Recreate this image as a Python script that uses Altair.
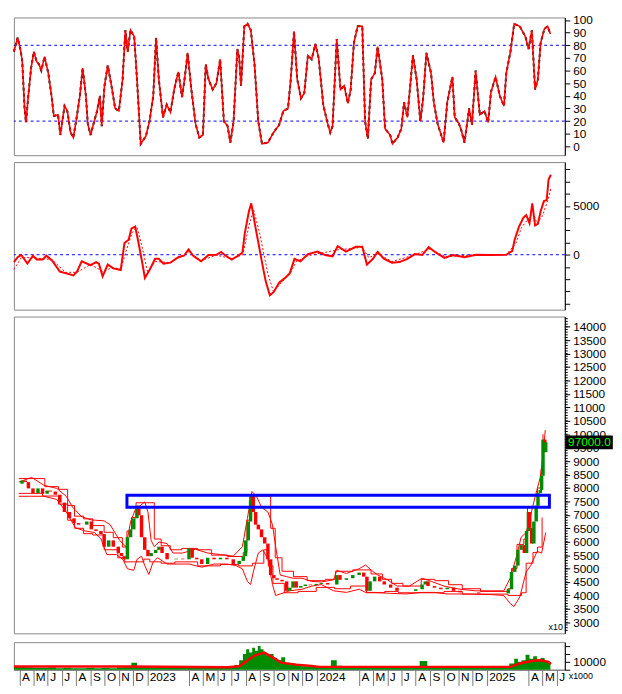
import altair as alt
import pandas as pd

BASE = pd.Timestamp("2022-04-01")

# ---------------- data (day offsets from 2022-04-01) -------------
stoch_days = [-12,-4,3,6,11,14,19,25,31,37,42,47,54,62,69,74,83,88,97,103,110,116,124,130,136,143,147,153,161,167,173,177,183,190,198,206,214,222,228,233,239,247,253,261,272,280,288,294,300,309,317,325,333,342,350,356,362,370,379,387,395,401,407,416,424,432,440,448,454,461,469,473,477,484,491,498,506,514,522,535,547,559,568,578,584,591,598,606,613,621,629,637,644,654,662,669,674,683,691,699,707,713,720,728,738,744,750,757,765,771,781,787,798,803,814,822,828,835,847,855,863,869,876,886,892,900,913,921,932,937,946,951,958,968,974,982,991,1001,1009,1015,1025,1034,1043,1048,1057,1065,1077,1089,1096,1103,1110,1116,1122,1130,1137,1143]
stoch_vals = [75,86,75,67,30,19,40,62,75,67,65,60,71,58,40,24,25,9,32,28,11,7,25,40,62,40,18,9,20,28,40,16,48,64,48,30,28,53,92,75,92,87,53,2,8,20,40,86,53,23,33,27,45,59,39,55,74,45,18,7,9,65,53,45,50,69,20,16,3,20,77,70,48,95,97,92,65,20,2,3,11,17,28,30,53,91,53,38,42,72,69,81,70,33,20,11,16,85,45,48,34,45,82,95,95,20,6,53,58,79,53,14,9,2,7,14,35,23,72,53,20,38,74,58,35,18,3,35,55,23,18,13,3,30,17,60,25,28,19,43,55,40,32,58,75,97,95,87,77,92,45,53,82,93,95,89]

macd_days = [-12,-4,4,17,29,37,50,58,70,87,99,116,124,134,153,165,171,179,190,202,218,226,235,241,249,255,264,270,280,292,300,310,325,342,354,364,374,391,407,424,434,444,457,473,480,485,494,499,508,522,530,539,547,559,572,582,592,605,621,642,658,674,685,703,724,738,748,761,771,785,802,818,835,851,867,881,896,915,933,958,983,1015,1048,1061,1066,1075,1085,1091,1098,1104,1110,1116,1122,1129,1135,1139,1144]
macd_vals = [-750,-260,-30,-910,-100,-490,-490,-100,-585,-1720,-1885,-2110,-1720,-680,-1070,-750,-910,-2210,-1010,-1400,-1560,1200,1530,2665,2890,1530,-750,-2370,-1560,-420,-420,-910,-810,-260,-100,550,-100,-680,-30,0,290,-100,-490,-30,230,2180,4450,5265,2830,-750,-2700,-4160,-3835,-2860,-2370,-1885,-420,-680,65,325,-30,-160,880,325,810,810,-1010,-420,290,-420,-810,-750,-420,65,-30,780,230,-325,-30,-260,0,-30,0,390,1530,2830,3800,4060,3220,5265,2990,3150,4450,5490,5590,7700,8190]

sig_days = [-12,4,29,70,99,124,153,179,202,218,231,243,253,264,276,292,325,364,391,424,457,481,494,504,518,535,547,563,582,596,621,685,738,752,771,802,851,884,917,983,1048,1069,1081,1094,1106,1114,1126,1139,1144]
sig_vals = [-1500,-300,-300,-500,-1800,-1800,-1000,-1700,-1300,-1500,600,2300,2800,800,-1800,-700,-800,300,-600,-50,-400,0,3000,4600,2000,-2000,-3800,-2900,-2000,-700,-100,500,750,-300,100,-700,0,600,-200,0,0,1200,2800,3600,4300,3200,4000,5800,6800]

price_days = [-12,-5,2,9,19,30,40,50,57,68,78,88,99,109,119,130,137,147,157,168,175,185,195,206,213,219,226,233,240,247,251,257,264,271,278,288,295,302,313,323,333,347,361,368,378,389,402,416,430,444,458,471,480,485,491,496,499,502,507,513,520,527,534,540,547,554,565,575,582,589,596,606,616,627,640,651,665,678,685,692,706,720,734,744,751,758,768,779,789,803,817,830,844,858,872,879,885,899,913,927,941,955,968,982,996,1010,1024,1037,1051,1061,1068,1075,1082,1089,1096,1101,1105,1108,1112,1117,1122,1126,1131,1134,1137,1141,1143]
price_close = [8160,8277,8219,7984,7808,7984,7785,7902,7867,7750,7456,7104,6870,6694,6635,6635,6752,6459,6400,6283,5814,6049,5814,5579,5462,5345,6166,6459,6870,7339,6987,6166,5697,5462,5579,5697,5814,5579,5345,5345,5369,5345,5755,5404,5345,5169,5404,5345,5404,5345,5169,5286,5462,6049,6752,7515,7691,7104,6635,6459,6166,5931,5345,4758,4641,4582,4524,4172,4289,4524,4289,4348,4406,4383,4430,4465,4406,4406,4758,4582,4641,4758,4852,4700,4172,4524,4700,4524,4406,4289,4172,4172,4172,4231,4406,4524,4348,4289,4231,4289,4172,4113,4113,4113,4078,4078,4078,4078,4078,4231,4875,5110,5697,5873,5579,6400,7104,6518,5931,6752,7339,7808,7925,8453,9802,9333,9700]

bbu_days = [-12,16,43,71,92,106,126,147,175,188,209,223,233,244,254,264,271,278,285,295,313,326,347,375,402,430,458,478,489,499,509,520,534,544,551,561,575,589,609,630,651,678,685,706,734,748,761,775,796,817,844,872,892,920,955,989,1024,1051,1065,1079,1089,1100,1110,1120,1131,1137,1142]
bbu_vals = [8219,8394,8101,7984,7691,7280,6928,6811,6776,6635,6049,5814,6752,7222,7339,7480,7104,6049,5814,5990,5931,5579,5579,5720,5579,5521,5462,5814,6870,7867,7691,7280,7104,6635,5814,4758,4699,4641,4641,4524,4500,4582,4934,4817,4993,5134,4934,4758,4582,4348,4348,4641,4524,4348,4231,4172,4172,4172,4641,5462,6166,6342,6987,7691,8394,9216,10154]

bbl_days = [-12,16,43,71,92,112,133,154,168,181,202,216,226,240,247,257,264,273,282,292,313,333,361,389,416,444,464,478,489,496,502,513,523,534,544,551,561,582,609,630,651,678,706,734,748,768,803,837,872,899,927,968,1024,1051,1065,1073,1086,1100,1110,1124,1134,1143]
bbl_vals = [7691,7691,7691,7574,7104,6518,6400,6342,6107,5521,5521,5345,4993,4934,5345,5462,5110,4782,5227,5404,5169,5169,5169,5052,5169,5169,5110,4993,4524,4406,4875,5579,5697,5345,4406,3996,4055,4172,4231,4348,4406,4172,4113,4231,4113,4113,4078,4055,4113,4113,4055,4055,4031,3996,3703,3586,3937,4875,5110,5639,5579,6342]

# price channel (step lines hugging the candles)
chh_days = [-12,45,75,95,110,130,150,175,195,215,225,235,245,265,285,300,320,345,380,410,445,480,488,494,520,540,550,565,590,620,660,682,720,745,760,785,805,830,870,900,930,960,1000,1060,1068,1080,1095,1103,1125,1133,1137]
chh_vals = [8350,8050,7950,7350,6950,6850,6600,6350,6150,5800,6400,6900,7450,7450,6100,5850,5700,5750,5700,5500,5450,5600,6800,7700,7700,6500,5400,4900,4700,4550,4600,4900,4950,4950,4800,4600,4450,4350,4600,4550,4400,4250,4150,4250,5000,5900,6100,7300,8000,8700,10000]
chl_days = [-12,40,75,95,110,130,150,175,205,220,245,262,275,300,330,380,430,470,500,525,535,545,570,600,640,680,715,750,790,820,870,920,960,1060,1090,1100,1115,1125,1135]
chl_vals = [7800,7700,7400,6800,6500,6300,6250,5700,5400,5250,5250,5350,5250,5200,5250,5100,5150,5100,5200,5700,5100,4450,4100,4150,4300,4250,4350,4100,4150,4100,4100,4150,4050,4000,4100,5200,5600,5800,6900]

vol_days = [-12,4,21,37,54,70,87,103,120,136,153,169,185,202,218,235,247,259,276,292,309,325,342,358,374,391,407,424,440,457,469,477,485,491,498,504,510,516,522,529,535,543,551,559,568,576,588,600,613,629,646,662,679,687,703,728,753,777,802,826,851,872,884,909,933,958,983,1007,1032,1048,1061,1069,1077,1085,1094,1102,1110,1118,1126,1135,1143]
vol_vals = [3500,4000,3000,2500,2500,3000,2000,2500,2000,2000,2500,2000,2500,2000,3000,3500,9000,4000,3500,2500,3000,2500,3000,2500,3000,2500,3000,2500,3000,4000,6000,12000,20000,26000,22000,28000,24000,30000,26000,22000,18000,20000,15000,12000,16000,9000,8000,6000,4500,3500,3500,3000,12000,5000,3500,3000,3000,3500,3000,3500,3000,11000,4000,3000,3000,3500,3000,3000,3000,3500,8000,14000,10000,12000,19000,14000,17000,13000,15000,11000,9000]

volma_days = [-12,235,448,473,489,506,527,547,563,596,629,646,1057,1065,1081,1106,1122,1139,1144]
volma_vals = [4000,4000,3200,4500,11000,18000,21800,15000,9000,6500,4800,3600,3600,5500,8500,11500,12000,10000,7000]

zone_days = [225, 1151]
zone_prices = [7280, 7730]
last_price = 9700
last_label = "97000.0"

# axis tick values
stoch_ticks = list(range(0, 101, 10))
macd_ticks = [-5000, -3750, -2500, -1250, 0, 1250, 2500, 3750, 5000, 6250, 7500, 8750]
price_ticks = list(range(3000, 14001, 500))
price_minor = list(range(2700, 14400, 100))
vol_ticks = [0, 10000, 20000, 30000]
tick_months = (["2022-%02d" % m for m in range(4, 13)]
               + ["2023-01"] + ["2023-%02d" % m for m in range(4, 13)]
               + ["2024-01"] + ["2024-%02d" % m for m in range(4, 13)]
               + ["2025-01", "2025-04", "2025-05", "2025-06"])


def to_dates(days):
    return [(BASE + pd.Timedelta(days=d)).strftime("%Y-%m-%dT00:00:00") for d in days]


stoch_df = pd.DataFrame({"date": to_dates(stoch_days), "v": stoch_vals})
macd_df = pd.DataFrame({"date": to_dates(macd_days), "v": macd_vals})
sig_df = pd.DataFrame({"date": to_dates(sig_days), "v": sig_vals})
price_df = pd.DataFrame({"date": to_dates(price_days), "close": price_close})
bbu_df = pd.DataFrame({"date": to_dates(bbu_days), "v": bbu_vals})
bbl_df = pd.DataFrame({"date": to_dates(bbl_days), "v": bbl_vals})
chh_df = pd.DataFrame({"date": to_dates(chh_days), "v": chh_vals})
chl_df = pd.DataFrame({"date": to_dates(chl_days), "v": chl_vals})
vol_df = pd.DataFrame({"date": to_dates(vol_days), "v": vol_vals})
volma_df = pd.DataFrame({"date": to_dates(volma_days), "v": volma_vals})
zd = to_dates(zone_days)
zone_df = pd.DataFrame({"d1": [zd[0]], "d2": [zd[1]], "p1": [zone_prices[0]], "p2": [zone_prices[1]]})
last_df = pd.DataFrame({"close": [last_price], "label": [last_label]})
minor_df = pd.DataFrame({"t": price_minor})
tick_vals = [alt.DateTime(year=int(s[:4]), month=int(s[5:]), date=1) for s in tick_months]

W = 560
PH = 322
FONT = "Liberation Sans"
RED = "#ff0000"
GREEN = "#008c00"
BLUE = "#0000ff"

x_scale = alt.Scale(domain=[alt.DateTime(year=2022, month=3, date=20),
                            alt.DateTime(year=2025, month=6, date=18)])
X_none = alt.X("date:T", scale=x_scale, axis=None, title=None)


def yaxis(values, **kw):
    return alt.Axis(orient="right", values=values, title=None, grid=False, labelFont=FONT,
                    labelFontSize=12, labelColor="black", tickColor="black",
                    domainColor="black", tickSize=5, labelPadding=3, labelOverlap=False,
                    format="d", **kw)


# ---------------- stochastic panel ----------------
s_scale = alt.Scale(domain=[-7, 102], nice=False, zero=False)
s_axis = yaxis(stoch_ticks)
s_levels = alt.Chart(pd.DataFrame({"lvl": [20, 80]})).mark_rule(
    color=BLUE, strokeDash=[3, 3], strokeWidth=1).encode(y=alt.Y("lvl:Q", scale=s_scale, axis=s_axis))
s_black = alt.Chart(stoch_df).mark_line(color="black", strokeDash=[3, 3], strokeWidth=2).encode(
    x=X_none, y=alt.Y("v:Q", scale=s_scale, axis=s_axis))
s_red = alt.Chart(stoch_df).mark_line(color=RED, strokeWidth=1.6).encode(
    x=X_none, y=alt.Y("v:Q", scale=s_scale, axis=s_axis))
stoch = alt.layer(s_levels, s_black, s_red).properties(width=W, height=140)

# ---------------- MACD panel ----------------
m_scale = alt.Scale(domain=[-5624, 9483], nice=False, zero=False)
m_axis = yaxis(macd_ticks, labelExpr="datum.value == 0 || datum.value == 5000 ? datum.value : ''")
m_zero = alt.Chart(pd.DataFrame({"lvl": [0]})).mark_rule(
    color=BLUE, strokeDash=[3, 3], strokeWidth=1).encode(y=alt.Y("lvl:Q", scale=m_scale, axis=m_axis))
m_sig = alt.Chart(sig_df).mark_line(color=RED, strokeDash=[2, 2], strokeWidth=1).encode(
    x=X_none, y=alt.Y("v:Q", scale=m_scale, axis=m_axis))
m_line = alt.Chart(macd_df).mark_line(color=RED, strokeWidth=2).encode(
    x=X_none, y=alt.Y("v:Q", scale=m_scale, axis=m_axis))
macd = alt.layer(m_zero, m_sig, m_line).properties(width=W, height=150)

# ---------------- price panel ----------------
p_scale = alt.Scale(domain=[2590, 14380], nice=False, zero=False)
p_axis = yaxis(price_ticks, zindex=0)
candles = alt.Chart(price_df).transform_window(
    prev="lag(close)"
).transform_calculate(
    open_="datum.prev == null ? datum.close : datum.prev",
    up="datum.close >= (datum.prev == null ? datum.close : datum.prev)"
).mark_bar(size=3.5).encode(
    x=X_none,
    y=alt.Y("open_:Q", scale=p_scale, axis=p_axis),
    y2="close:Q",
    color=alt.condition("datum.up", alt.value(GREEN), alt.value(RED)),
)


def band(df, step=False):
    kw = {"interpolate": "step-after"} if step else {}
    return alt.Chart(df).mark_line(color=RED, strokeWidth=1, **kw).encode(
        x=X_none, y=alt.Y("v:Q", scale=p_scale, axis=p_axis))


minor = alt.Chart(minor_df).mark_rule(color="black", strokeWidth=1).encode(
    x=alt.value(W), x2=alt.value(W + 3), y=alt.Y("t:Q", scale=p_scale, axis=p_axis))
zone = alt.Chart(zone_df).mark_rect(fillOpacity=0, stroke=BLUE, strokeWidth=3).encode(
    x=alt.X("d1:T", scale=x_scale, axis=None), x2="d2:T",
    y=alt.Y("p1:Q", scale=p_scale, axis=p_axis), y2="p2:Q")
box = alt.Chart(last_df).mark_point(
    shape="M-3.4,-1L3.4,-1L3.4,1L-3.4,1Z", size=196, filled=True, fill="black",
    opacity=1).encode(x=alt.value(W + 25), y=alt.Y("close:Q", scale=p_scale, axis=p_axis))
box_txt = alt.Chart(last_df).mark_text(color="#00ff00", font=FONT, fontSize=12,
                                       align="center", baseline="middle").encode(
    x=alt.value(W + 25), y=alt.Y("close:Q", scale=p_scale, axis=p_axis), text="label:N")
x10 = alt.Chart(pd.DataFrame({"t": ["x10"]})).mark_text(
    font=FONT, fontSize=9, align="right", baseline="bottom", color="black").encode(
    x=alt.value(W - 2), y=alt.value(PH - 1), text="t:N")
price = alt.layer(band(bbu_df), band(bbl_df), band(chh_df, True), band(chl_df, True),
                  candles, zone, minor, box, box_txt, x10).properties(width=W, height=PH)

# ---------------- volume panel ----------------
v_scale = alt.Scale(domain=[0, 35000], nice=False, zero=True)
v_axis = yaxis(vol_ticks, labelExpr="datum.value == 10000 ? '10000' : ''")
x_axis = alt.Axis(values=tick_vals, title=None, grid=False, labelFont=FONT, labelFontSize=12,
                  labelColor="black", tickColor="#777", domainColor="#777", tickSize=16,
                  labelAlign="left", labelBaseline="top", labelPadding=-14, labelOffset=2,
                  labelOverlap=False, labelFlush=False,
                  labelExpr="month(datum.value) == 0 ? timeFormat(datum.value, '%Y') : "
                            "substring(timeFormat(datum.value, '%b'), 0, 1)")
X_vol = alt.X("date:T", scale=x_scale, axis=x_axis, title=None)
v_area = alt.Chart(vol_df).mark_area(color=GREEN, interpolate="step").encode(
    x=X_vol, y=alt.Y("v:Q", scale=v_scale, axis=v_axis))
v_ma = alt.Chart(volma_df).mark_line(color=RED, strokeWidth=2.5).encode(
    x=X_vol, y=alt.Y("v:Q", scale=v_scale, axis=v_axis))
x1000 = alt.Chart(pd.DataFrame({"t": ["x1000"]})).mark_text(
    font=FONT, fontSize=9, align="left", baseline="top", color="black").encode(
    x=alt.value(W + 4), y=alt.value(30), text="t:N")
volume = alt.layer(v_area, v_ma, x1000).properties(width=W, height=28)

chart = alt.vconcat(stoch, macd, price, volume, spacing=5).configure_view(
    stroke="#888", strokeWidth=1
).properties(padding={"left": 0, "top": 0, "right": 0, "bottom": 0})

chart.save("out.html", embed_options={"renderer": "svg", "actions": False})
